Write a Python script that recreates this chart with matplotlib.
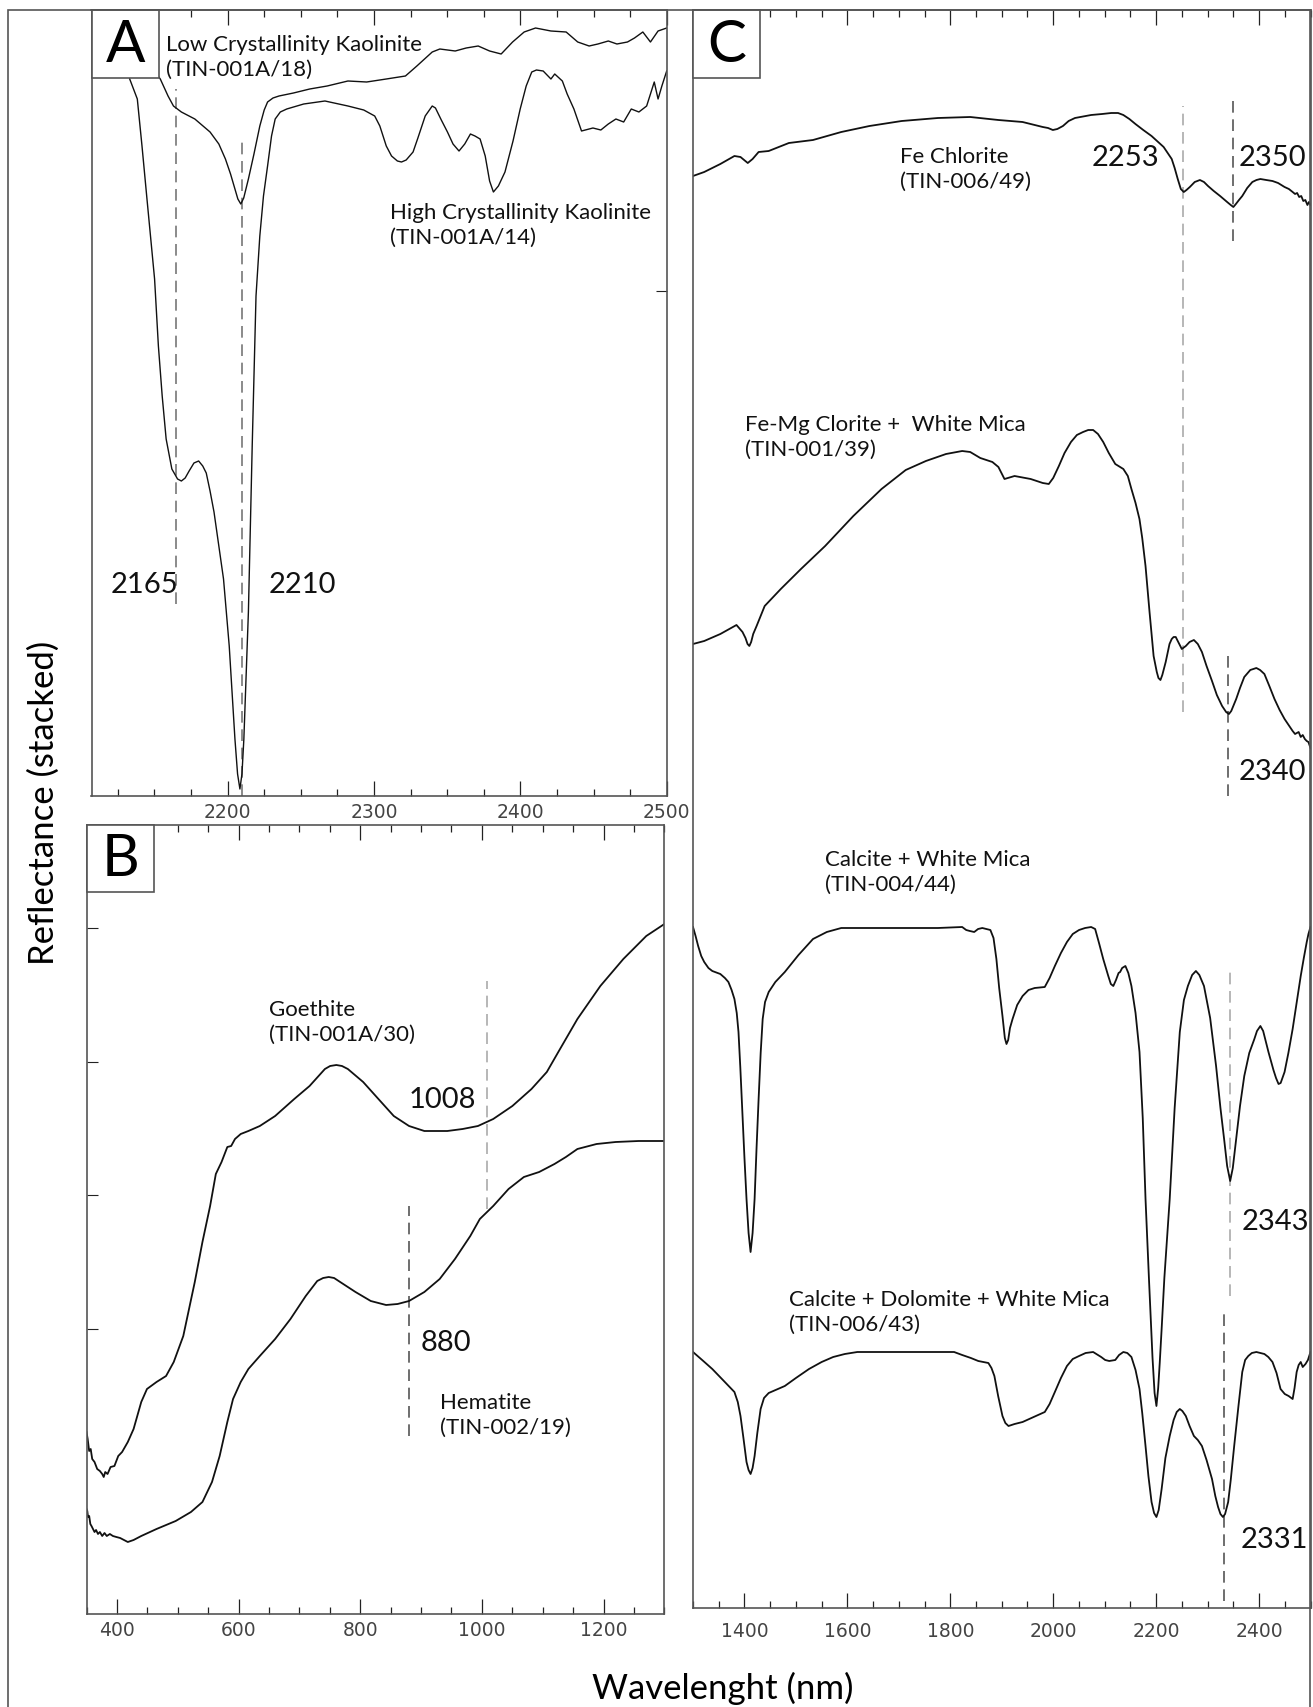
import matplotlib
matplotlib.use("Agg")
import matplotlib.pyplot as plt
from matplotlib.patches import Rectangle
from matplotlib.ticker import MultipleLocator

plt.rcParams["font.family"] = ["DejaVu Sans"]
LABEL_FONT = ["Lato", "DejaVu Sans"]

# ---- Panel A: kaolinite spectra (nm, stacked reflectance) ----
lc_kaol_wl = [2120, 2135, 2145, 2154.0, 2159.3, 2163, 2168.4, 2177.6, 2188.0, 2194, 2198.5, 2202,
              2205.0, 2207, 2209, 2211, 2214.2, 2218, 2222.0, 2225, 2227.3, 2231, 2235.1, 2245,
              2256.1, 2268, 2282.2, 2295, 2308.4, 2321.5, 2329.3, 2339.8, 2345.0, 2355.5, 2363,
              2371.2, 2379.0, 2386.9, 2394.7, 2402.6, 2410.4, 2420.9, 2431.3, 2439.2, 2447.0,
              2453, 2460.1, 2466, 2473.2, 2478, 2483.7, 2488.9, 2494.1, 2500]
lc_kaol_r = [7.80, 7.55, 7.35, 7.17, 7.00, 6.90, 6.84, 6.77, 6.64, 6.52, 6.37, 6.22,
             6.07, 5.97, 5.92, 5.98, 6.17, 6.42, 6.70, 6.86, 6.94, 6.98, 7.00, 7.03,
             7.07, 7.10, 7.15, 7.14, 7.17, 7.20, 7.30, 7.44, 7.47, 7.45, 7.48,
             7.50, 7.45, 7.42, 7.54, 7.64, 7.68, 7.65, 7.64, 7.54, 7.50,
             7.52, 7.55, 7.52, 7.54, 7.58, 7.64, 7.54, 7.65, 7.68]

hc_kaol_wl = [2118, 2127, 2133.1, 2138.3, 2141.5, 2144.9, 2150.1, 2152.7, 2155.3, 2158.0, 2161.9,
              2165.8, 2168.4, 2171.0, 2173.7, 2177.0, 2180.2, 2183.0, 2185.4, 2188.0, 2190.7,
              2197.2, 2201.1, 2205.0, 2206.8, 2208.4, 2209.8, 2211.1, 2214.2, 2216.8, 2219.4,
              2222.0, 2224.5, 2227.3, 2230, 2232.5, 2236, 2240.4, 2252, 2266.5, 2282.2, 2293,
              2300.5, 2304, 2308.4, 2312, 2316, 2318.8, 2322, 2326.7, 2330, 2335, 2339.8, 2342,
              2346, 2350.2, 2354, 2358.1, 2362, 2365.9, 2369, 2372.5, 2376, 2379, 2381.6, 2385,
              2389.5, 2395, 2399.9, 2404, 2407.8, 2411, 2415.6, 2420.9, 2423.5, 2428.7, 2432,
              2436.6, 2441.8, 2449.6, 2455, 2460.1, 2465.3, 2470.6, 2475.8, 2481.0, 2486.3,
              2491.5, 2494.1, 2496.7, 2500]
hc_kaol_r = [7.86, 7.55, 7.17, 6.97, 6.50, 5.97, 5.17, 4.50, 4.00, 3.57, 3.27,
             3.17, 3.15, 3.18, 3.25, 3.33, 3.35, 3.30, 3.23, 3.05, 2.84,
             2.17, 1.50, 0.57, 0.22, 0.07, 0.22, 0.57, 1.84, 3.50, 5.00,
             5.60, 6.00, 6.30, 6.60, 6.77, 6.84, 6.87, 6.92, 6.95, 6.90, 6.86,
             6.80, 6.70, 6.50, 6.40, 6.35, 6.34, 6.36, 6.44, 6.58, 6.80, 6.90, 6.88,
             6.76, 6.64, 6.52, 6.45, 6.52, 6.62, 6.60, 6.57, 6.40, 6.15, 6.04, 6.10,
             6.24, 6.55, 6.87, 7.10, 7.24, 7.26, 7.25, 7.17, 7.22, 7.15, 7.02,
             6.87, 6.65, 6.68, 6.66, 6.72, 6.77, 6.74, 6.87, 6.84, 6.90,
             7.14, 6.97, 7.10, 7.25]

# ---- Panel B: iron oxide spectra ----
goethite_wl = [350.0, 351.9, 354.4, 356.9, 359.4, 363.2, 367.6, 372.0, 375.8, 378.3, 380.8, 384.6,
               389.6, 395.9, 402.2, 408.5, 417.9, 427.4, 440.0, 449.4, 465.1, 480.8, 493.4,
               509.1, 528.0, 540.6, 553.2, 562.6, 572.0, 581.5, 587.8, 594.1, 603.5, 616.1,
               634.9, 660.1, 691.5, 716.7, 741.9, 750.5, 760.7, 770, 779.6, 804.8, 829.9, 855.1,
               880.2, 905.4, 943.1, 968.3, 993.5, 1018.6, 1050.1, 1081.5, 1106.7, 1125.6,
               1157.0, 1194.7, 1232.5, 1270.2, 1300]
goethite_r = [1.76, 1.69, 1.57, 1.59, 1.49, 1.46, 1.39, 1.37, 1.34, 1.31, 1.36, 1.34,
              1.41, 1.42, 1.52, 1.56, 1.66, 1.79, 2.06, 2.19, 2.26, 2.32, 2.46,
              2.72, 3.26, 3.66, 4.02, 4.34, 4.46, 4.61, 4.62, 4.69, 4.74, 4.77,
              4.82, 4.92, 5.09, 5.22, 5.39, 5.42, 5.43, 5.42, 5.39, 5.26, 5.09, 4.92,
              4.82, 4.77, 4.77, 4.79, 4.82, 4.89, 5.02, 5.19, 5.36, 5.56,
              5.89, 6.22, 6.49, 6.72, 6.84]

hematite_wl = [350.0, 351.3, 352.5, 354.4, 356.3, 358.2, 360.7, 363.2, 365.7, 368.9, 372.0, 375.8,
               379.6, 383.3, 388.4, 393.4, 399.1, 405.3, 411.6, 417.9, 427.4, 440.0, 465.1,
               496.6, 521.7, 540.6, 556.3, 568.9, 581.5, 590.9, 603.5, 616.1, 634.9, 660.1,
               685.3, 710.4, 729.3, 739, 748.2, 757, 767.0, 792.2, 817.3, 842.5, 861.4, 880.2,
               905.4, 930.6, 955.7, 980.9, 996.6, 1018.6, 1043.8, 1069.0, 1094.1, 1119.3,
               1138.1, 1157.0, 1188.5, 1219.9, 1257.6, 1300]
hematite_r = [0.99, 0.97, 0.91, 0.92, 0.84, 0.82, 0.79, 0.76, 0.78, 0.74, 0.76, 0.72,
              0.75, 0.72, 0.74, 0.72, 0.71, 0.70, 0.68, 0.66, 0.68, 0.72, 0.79,
              0.87, 0.96, 1.06, 1.26, 1.52, 1.86, 2.09, 2.26, 2.39, 2.52, 2.69,
              2.89, 3.12, 3.27, 3.30, 3.31, 3.30, 3.26, 3.16, 3.07, 3.03, 3.04, 3.07,
              3.16, 3.29, 3.49, 3.72, 3.89, 4.02, 4.19, 4.31, 4.36, 4.44,
              4.51, 4.59, 4.64, 4.66, 4.67, 4.67]

# ---- Panel C: chlorite / mica / carbonate spectra ----
fe_chl_wl = [1300, 1321.8, 1353.1, 1380.5, 1392.3, 1406.4, 1415.8, 1427.5, 1447.1, 1486.3, 1533.2,
             1588.1, 1642.9, 1705.6, 1776.0, 1838.7, 1893.5, 1940.5, 1979.7, 1990, 1999.3, 2008,
             2018.9, 2030, 2042.3, 2073.7, 2095, 2112.8, 2126, 2136.3, 2148, 2159.8, 2175,
             2191.1, 2214.6, 2230.3, 2236, 2242.0, 2248, 2253.8, 2259, 2265.5, 2275, 2285.1,
             2293, 2300.8, 2312, 2324.3, 2338, 2345, 2350.1, 2355, 2361, 2367.4, 2377, 2387.0,
             2395, 2402.6, 2414, 2426.1, 2437, 2449.6, 2458, 2465.3, 2470, 2474, 2478, 2482,
             2486, 2490, 2494, 2497, 2500]
fe_chl_r = [14.32, 14.36, 14.44, 14.52, 14.51, 14.45, 14.49, 14.56, 14.57, 14.65, 14.68,
            14.76, 14.82, 14.87, 14.90, 14.91, 14.88, 14.86, 14.81, 14.80, 14.78, 14.79,
            14.82, 14.87, 14.90, 14.93, 14.94, 14.95, 14.95, 14.93, 14.89, 14.84, 14.78,
            14.72, 14.61, 14.49, 14.40, 14.29, 14.19, 14.16, 14.18, 14.21, 14.26, 14.28,
            14.26, 14.22, 14.17, 14.12, 14.06, 14.03, 14.01, 14.04, 14.08, 14.12, 14.20, 14.26,
            14.28, 14.29, 14.28, 14.27, 14.25, 14.21, 14.19, 14.16, 14.14, 14.15, 14.11, 14.12,
            14.07, 14.08, 14.03, 14.06, 14.03]

femg_chl_wl = [1300, 1321.8, 1353.1, 1384.5, 1396.2, 1402, 1406, 1409.5, 1413, 1417, 1423.6,
               1439.3, 1470.6, 1509.8, 1556.8, 1611.6, 1666.4, 1713.4, 1752.6, 1791.7, 1823.1,
               1838.7, 1858.3, 1881.8, 1893.5, 1905.3, 1924.9, 1956.2, 1979.7, 1991.4, 2000,
               2011.0, 2022, 2034.5, 2046, 2058.0, 2068, 2077.6, 2087, 2097.2, 2108, 2120.6,
               2136.3, 2145, 2152.0, 2160, 2167.6, 2173, 2179.4, 2187.2, 2195.1, 2201.3, 2204.5,
               2208.4, 2212, 2218.6, 2226, 2230.3, 2234, 2238.1, 2242, 2249.9, 2257.7, 2265,
               2273.4, 2281, 2289.0, 2298, 2308.6, 2318, 2328.2, 2336, 2341.5, 2346, 2355.6,
               2363, 2371.3, 2383, 2394.8, 2402, 2410.4, 2420, 2430.0, 2440, 2449.6, 2465.3,
               2470, 2477.0, 2481, 2484.9, 2489, 2492.7, 2496, 2500]
femg_chl_r = [9.64, 9.67, 9.74, 9.83, 9.76, 9.70, 9.64, 9.62, 9.66, 9.74, 9.82,
              10.02, 10.19, 10.39, 10.62, 10.92, 11.19, 11.38, 11.47, 11.54, 11.57,
              11.56, 11.50, 11.46, 11.41, 11.29, 11.32, 11.29, 11.25, 11.24, 11.30,
              11.42, 11.55, 11.66, 11.73, 11.76, 11.78, 11.78, 11.74, 11.66, 11.55, 11.44,
              11.39, 11.32, 11.19, 11.05, 10.89, 10.70, 10.42, 9.96, 9.52, 9.36, 9.30,
              9.28, 9.33, 9.46, 9.64, 9.69, 9.71, 9.71, 9.67, 9.59, 9.62, 9.66,
              9.68, 9.64, 9.56, 9.42, 9.27, 9.13, 9.02, 8.96, 8.94, 8.97, 9.09,
              9.20, 9.31, 9.38, 9.40, 9.38, 9.34, 9.22, 9.09, 8.98, 8.89, 8.77,
              8.74, 8.76, 8.71, 8.73, 8.69, 8.67, 8.66, 8.60]

cal_wm_wl = [1300, 1305, 1310, 1316, 1321.8, 1330, 1337.5, 1353.1, 1362, 1368.8, 1375, 1380.5,
             1385, 1388.4, 1392, 1396.2, 1400, 1404.0, 1408, 1411.9, 1415.8, 1419.7, 1423.5,
             1427.5, 1431.5, 1435.4, 1440, 1447.1, 1460, 1478.4, 1505, 1533.2, 1560, 1588.1,
             1666.4, 1776.0, 1823.1, 1830.9, 1838, 1846.5, 1854, 1862.2, 1870, 1877.9, 1884,
             1889.6, 1895, 1901.4, 1906, 1909.2, 1912.5, 1916, 1921.0, 1930, 1940.5, 1952,
             1964.0, 1983.6, 1993, 2003.2, 2015, 2026.7, 2038, 2050.2, 2062, 2073.7, 2081.5,
             2089, 2097.2, 2107, 2112, 2116.8, 2122, 2127, 2130.0, 2134, 2140.3, 2146, 2152.0,
             2160, 2167.7, 2174, 2179.4, 2186, 2193, 2197, 2200.6, 2204, 2207, 2210.7, 2216,
             2222.5, 2226.4, 2236, 2246.0, 2254, 2261.7, 2270, 2277.3, 2284, 2293.0, 2305,
             2316.5, 2325, 2332.1, 2338, 2343.9, 2349, 2355.6, 2363, 2371.3, 2381, 2390.9,
             2396, 2402.6, 2408, 2418.3, 2428, 2433, 2437.9, 2442, 2449.6, 2457, 2465.3, 2473,
             2481.0, 2487, 2492.7, 2496, 2500]
cal_wm_r = [6.81, 6.72, 6.62, 6.52, 6.46, 6.40, 6.37, 6.34, 6.30, 6.26, 6.18, 6.09,
            5.95, 5.76, 5.40, 4.92, 4.50, 4.09, 3.75, 3.56, 3.75, 4.09, 4.60,
            5.09, 5.55, 5.89, 6.06, 6.16, 6.26, 6.36, 6.53, 6.69, 6.76, 6.80,
            6.80, 6.80, 6.81, 6.78, 6.77, 6.76, 6.79, 6.80, 6.79, 6.78, 6.70,
            6.49, 6.20, 5.92, 5.70, 5.64, 5.68, 5.80, 5.89, 6.03, 6.12, 6.18,
            6.20, 6.21, 6.30, 6.42, 6.55, 6.66, 6.74, 6.78, 6.80, 6.81, 6.79,
            6.65, 6.49, 6.32, 6.24, 6.22, 6.28, 6.35, 6.36, 6.40, 6.42, 6.35, 6.22,
            5.95, 5.56, 4.90, 4.09, 3.30, 2.50, 2.15, 2.02, 2.20, 2.45, 2.79, 3.30,
            3.79, 4.09, 5.00, 5.76, 6.08, 6.22, 6.33, 6.37, 6.33, 6.22, 5.90,
            5.42, 5.00, 4.69, 4.42, 4.27, 4.40, 4.69, 5.02, 5.32, 5.55, 5.69,
            5.77, 5.82, 5.77, 5.56, 5.38, 5.30, 5.24, 5.25, 5.36, 5.55, 5.79, 6.05,
            6.32, 6.50, 6.66, 6.74, 6.81]

cal_dol_wm_wl = [1300, 1320, 1337.5, 1360, 1380.5, 1387, 1392.3, 1398, 1404.0, 1408, 1411.9,
                 1415.8, 1419.7, 1425, 1431.4, 1438, 1447.1, 1478.4, 1500, 1525.4, 1550, 1572.4,
                 1595, 1619.4, 1705.6, 1807.4, 1823.1, 1840, 1854.4, 1874.0, 1880, 1885.7, 1893,
                 1901.4, 1907, 1913.1, 1925, 1940.5, 1962, 1983.6, 1993, 2003.2, 2015, 2026.7,
                 2038, 2050.2, 2063, 2077.6, 2093.2, 2101, 2108.9, 2120.6, 2128, 2136.3, 2144,
                 2152.0, 2160, 2167.7, 2173, 2179.4, 2185, 2191.1, 2196, 2200.6, 2205, 2210.7,
                 2218, 2226.4, 2234, 2240, 2246.0, 2251, 2257.7, 2265, 2273.4, 2281, 2289.0, 2298,
                 2308.6, 2315, 2320.4, 2325, 2329.8, 2334, 2340.0, 2345, 2351.7, 2360, 2367.4,
                 2373, 2379.1, 2386, 2394.8, 2410.4, 2418, 2426.1, 2434, 2441.8, 2450, 2457.5,
                 2465.3, 2469, 2473.1, 2477, 2481.0, 2484.9, 2490.3, 2495, 2500]
cal_dol_wm_r = [2.56, 2.47, 2.39, 2.27, 2.16, 2.06, 1.92, 1.70, 1.46, 1.38, 1.34,
                1.40, 1.52, 1.75, 1.99, 2.10, 2.15, 2.22, 2.30, 2.39, 2.46, 2.51,
                2.54, 2.56, 2.56, 2.56, 2.53, 2.50, 2.47, 2.45, 2.40, 2.32, 2.12,
                1.92, 1.85, 1.82, 1.84, 1.86, 1.91, 1.96, 2.04, 2.16, 2.30, 2.42,
                2.49, 2.52, 2.55, 2.56, 2.51, 2.48, 2.47, 2.48, 2.53, 2.56, 2.55,
                2.51, 2.38, 2.19, 1.95, 1.62, 1.32, 1.06, 0.95, 0.91, 0.98, 1.19,
                1.50, 1.72, 1.88, 1.96, 1.99, 1.97, 1.92, 1.82, 1.72, 1.68, 1.62, 1.48,
                1.29, 1.12, 1.01, 0.94, 0.91, 0.94, 1.06, 1.28, 1.62, 2.02, 2.36,
                2.48, 2.52, 2.55, 2.56, 2.54, 2.51, 2.46, 2.35, 2.19, 2.14, 2.12,
                2.09, 2.20, 2.36, 2.43, 2.46, 2.41, 2.44, 2.48, 2.56]

# absorption features: (wavelength, reflectance top, reflectance bottom, colour)
a_features = [(2165, 7.07, 1.92, "#777777"), (2210, 6.55, 0.0, "#777777")]
b_features = [(1008, 6.27, 3.99, "#aaaaaa"), (880, 4.02, 1.72, "#555555")]
c_features = [(2253, 15.02, 8.96, "#aaaaaa"), (2350, 15.12, 13.67, "#555555"),
              (2340, 9.56, 8.12, "#555555"), (2343, 6.41, 3.12, "#aaaaaa"),
              (2331, 2.96, 0.07, "#555555")]

W, H = 1313, 1708
fig = plt.figure(figsize=(W / 100, H / 100), dpi=100)
SPINE = "#555555"


def px_axes(x0, y0, x1, y1):
    return fig.add_axes([x0 / W, 1 - y1 / H, (x1 - x0) / W, (y1 - y0) / H])


def style(ax, major, minor, pad):
    for s in ax.spines.values():
        s.set_color(SPINE)
        s.set_linewidth(1.2)
    ax.xaxis.set_major_locator(MultipleLocator(major))
    ax.xaxis.set_minor_locator(MultipleLocator(minor))
    ax.tick_params(axis="x", which="both", direction="in", top=True, bottom=True,
                   color="#222222", width=0.9, labelsize=13.5, labelcolor="#444444", pad=pad)
    ax.tick_params(axis="x", which="major", length=11)
    ax.tick_params(axis="x", which="minor", length=5)
    ax.tick_params(axis="y", which="both", direction="in", length=8, color="#222222",
                   labelleft=False, left=False, right=False)


def letter_box(ax, letter, bw_px, bh_px, ax_w_px, ax_h_px):
    bw, bh = bw_px / ax_w_px, bh_px / ax_h_px
    ax.add_patch(Rectangle((0, 1 - bh), bw, bh, transform=ax.transAxes, fc="white",
                           ec=SPINE, lw=1.2, zorder=5, clip_on=False))
    ax.text(bw / 2, 1 - bh / 2, letter, transform=ax.transAxes, ha="center", va="center",
            fontsize=42, family=LABEL_FONT, zorder=6)


def features(ax, feats):
    for wl, top, bot, col in feats:
        ax.plot([wl, wl], [bot, top], color=col, lw=1.2, dashes=(7, 4), zorder=1)


def note(ax, x, y, s, size=16):
    ax.text(x, y, s, ha="left", va="center", fontsize=size, family=LABEL_FONT,
            linespacing=1.3, color="#111111")


# outer frame
fig.add_artist(Rectangle((8 / W, -0.01), (1310 - 8) / W, 1 - 11 / H + 0.01,
                         transform=fig.transFigure, fill=False, ec=SPINE, lw=1.2))

# Panel A
axA = px_axes(91.5, 11, 666.7, 797)
axA.set_xlim(2107, 2500)
axA.set_ylim(0, 7.86)
style(axA, 100, 25, 4.5)
axA.set_yticks([5.05])
axA.tick_params(axis="y", right=True, length=8)
axA.plot(lc_kaol_wl, lc_kaol_r, color="#111111", lw=1.0)
axA.plot(hc_kaol_wl, hc_kaol_r, color="#111111", lw=1.0)
features(axA, a_features)
letter_box(axA, "A", 67.5, 68, 575.2, 786)
note(axA, 2157.9, 7.40, "Low Crystallinity Kaolinite\n(TIN-001A/18)")
note(axA, 2311, 5.72, "High Crystallinity Kaolinite\n(TIN-001A/14)")
note(axA, 2120.1, 2.12, "2165", 21)
note(axA, 2228.3, 2.12, "2210", 21)

# Panel B
axB = px_axes(86.5, 826, 664.4, 1615)
axB.set_xlim(350, 1300)
axB.set_ylim(-0.06, 7.83)
style(axB, 200, 50, 4.5)
axB.set_yticks([2.79, 4.13, 5.46, 6.80])
axB.tick_params(axis="y", left=True, length=8)
axB.plot(goethite_wl, goethite_r, color="#111111", lw=1.3)
axB.plot(hematite_wl, hematite_r, color="#111111", lw=1.3)
features(axB, b_features)
letter_box(axB, "B", 67.5, 67, 577.9, 789)
note(axB, 650.6, 5.87, "Goethite\n(TIN-001A/30)")
note(axB, 880.1, 5.09, "1008", 21)
note(axB, 899.2, 2.66, "880", 21)
note(axB, 930.5, 1.94, "Hematite\n(TIN-002/19)")

# Panel C
axC = px_axes(693, 11, 1310.5, 1609)
axC.set_xlim(1300, 2500)
axC.set_ylim(0, 15.98)
style(axC, 200, 50, 9.5)
for wl, r in [(fe_chl_wl, fe_chl_r), (femg_chl_wl, femg_chl_r),
              (cal_wm_wl, cal_wm_r), (cal_dol_wm_wl, cal_dol_wm_r)]:
    axC.plot(wl, r, color="#111111", lw=1.3)
features(axC, c_features)
letter_box(axC, "C", 67, 68, 617.5, 1598)
note(axC, 1702.3, 14.40, "Fe Chlorite\n(TIN-006/49)")
note(axC, 2075, 14.51, "2253", 21)
note(axC, 2361, 14.51, "2350", 21)
note(axC, 1400.3, 11.72, "Fe-Mg Clorite +  White Mica\n(TIN-001/39)")
note(axC, 2361, 8.37, "2340", 21)
note(axC, 1557, 7.37, "Calcite + White Mica\n(TIN-004/44)")
note(axC, 2366.9, 3.87, "2343", 21)
note(axC, 1486.6, 2.97, "Calcite + Dolomite + White Mica\n(TIN-006/43)")
note(axC, 2365, 0.69, "2331", 21)

fig.text(44 / W, 1 - 803 / H, "Reflectance (stacked)", rotation=90, ha="center", va="center",
         fontsize=25, family=LABEL_FONT)
fig.text(723 / W, 1 - 1688 / H, "Wavelenght (nm)", ha="center", va="center",
         fontsize=25, family=LABEL_FONT)

fig.savefig("out.png", dpi=100)
